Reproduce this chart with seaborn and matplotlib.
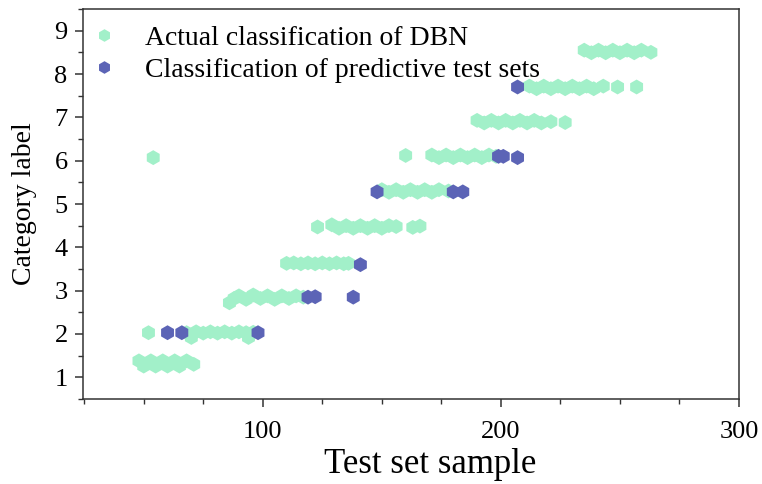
import matplotlib
matplotlib.use("Agg")
import matplotlib.pyplot as plt
import seaborn as sns
import pandas as pd
from matplotlib.ticker import MultipleLocator, FixedLocator, FixedFormatter

# ---- data (sample index, category label) ----
actual_x = [48, 50, 53, 55, 58, 60, 63, 65, 68, 71,
            52, 68, 70, 72, 75, 78, 81, 84, 87, 90, 93, 94, 96,
            86, 88, 90, 93, 96, 99, 102, 105, 108, 111, 114, 117,
            110, 113, 116, 119, 122, 125, 128, 131, 134, 136,
            123, 129, 132, 135, 138, 141, 144, 147, 150, 153, 156, 163, 166,
            150, 153, 156, 159, 162, 165, 168, 171, 174, 178,
            54, 160, 171, 174, 177, 180, 183, 186, 189, 192, 195, 198,
            190, 193, 196, 199, 202, 205, 208, 211, 214, 217, 221, 227,
            212, 215, 218, 221, 224, 227, 230, 233, 236, 239, 243, 249, 257,
            235, 238, 241, 244, 247, 250, 253, 256, 259, 263]
actual_y = [1.38, 1.26, 1.38, 1.26, 1.38, 1.26, 1.38, 1.26, 1.38, 1.30,
            2.03, 2.03, 1.92, 2.05, 2.02, 2.05, 2.02, 2.05, 2.02, 2.05, 2.03, 1.92, 2.04,
            2.72, 2.82, 2.88, 2.80, 2.90, 2.82, 2.88, 2.80, 2.88, 2.82, 2.88, 2.85,
            3.63, 3.64, 3.62, 3.64, 3.62, 3.64, 3.62, 3.64, 3.62, 3.63,
            4.47, 4.52, 4.44, 4.50, 4.44, 4.50, 4.44, 4.50, 4.44, 4.50, 4.48, 4.46, 4.49,
            5.33, 5.27, 5.33, 5.27, 5.33, 5.27, 5.33, 5.27, 5.33, 5.30,
            6.07, 6.12, 6.13, 6.07, 6.13, 6.07, 6.13, 6.07, 6.13, 6.07, 6.13, 6.10,
            6.93, 6.87, 6.93, 6.87, 6.93, 6.87, 6.93, 6.87, 6.93, 6.87, 6.90, 6.88,
            7.72, 7.66, 7.72, 7.66, 7.72, 7.66, 7.72, 7.66, 7.72, 7.66, 7.72, 7.70, 7.70,
            8.55, 8.49, 8.55, 8.49, 8.55, 8.49, 8.55, 8.49, 8.55, 8.50]

pred_x = [60, 66, 98, 119, 122, 138, 141, 148, 180, 184, 199, 201, 207, 207]
pred_y = [2.03, 2.03, 2.03, 2.85, 2.86, 2.85, 3.60, 5.28, 5.28, 5.28, 6.10, 6.10, 6.07, 7.70]

series_names = ["Actual classification of DBN", "Classification of predictive test sets"]
x_tick_values = [100, 200, 300]
x_tick_labels = ["100", "200", "300"]
y_tick_values = [1, 2, 3, 4, 5, 6, 7, 8, 9]

df = pd.DataFrame({
    "x": actual_x + pred_x,
    "y": actual_y + pred_y,
    "series": [series_names[0]] * len(actual_x) + [series_names[1]] * len(pred_x),
})

sns.set_style("ticks")
plt.rcParams["font.family"] = ["Liberation Serif", "DejaVu Serif"]
plt.rcParams["text.color"] = "black"
plt.rcParams["axes.labelcolor"] = "black"
plt.rcParams["xtick.labelcolor"] = "black"
plt.rcParams["ytick.labelcolor"] = "black"

green = "#a2f0c9"
blue = "#5c64b6"

fig = plt.figure(figsize=(7.62, 4.84), dpi=100)
ax = fig.add_axes([83 / 762, 85 / 484, 656 / 762, 390 / 484])

sns.scatterplot(data=df, x="x", y="y", hue="series", hue_order=series_names,
                palette=[green, blue], marker="h", s=115, linewidth=0,
                alpha=1.0, ax=ax, legend=True)

ax.set_xlim(24.5, 300)
ax.set_ylim(0.5, 9.5)

ax.set_xticks(x_tick_values)
ax.xaxis.set_major_formatter(FixedFormatter(x_tick_labels))
ax.xaxis.set_minor_locator(FixedLocator([25, 50, 75, 125, 150, 175, 225, 250, 275]))
ax.set_yticks(y_tick_values)
ax.yaxis.set_minor_locator(MultipleLocator(0.5))

ax.tick_params(axis="both", which="major", direction="out", length=6, width=1.1, color="#333333")
ax.tick_params(axis="both", which="minor", direction="out", length=3.5, width=1.0, color="#333333")
ax.tick_params(axis="x", labelsize=19, pad=10, labelcolor="black")
ax.tick_params(axis="y", labelsize=19, pad=5, labelcolor="black")

for sp in ax.spines.values():
    sp.set_visible(True)
    sp.set_color("#333333")
    sp.set_linewidth(1.1)

ax.set_xlabel("Test set sample", fontsize=25, color="black")
ax.xaxis.set_label_coords(0.529, -0.125)
ax.set_ylabel("Category label", fontsize=20, color="black")
ax.yaxis.set_label_coords(-0.07, 0.5)

handles, labels = ax.get_legend_handles_labels()
leg = ax.legend(handles=handles, labels=labels, loc="upper left",
                bbox_to_anchor=(0.0, 0.972), frameon=False, fontsize=20,
                handletextpad=0.93, labelspacing=0.24, markerscale=0.85,
                borderaxespad=0.0, borderpad=0.2, handlelength=1.1,
                labelcolor="black")

fig.savefig("out.png", dpi=100)
